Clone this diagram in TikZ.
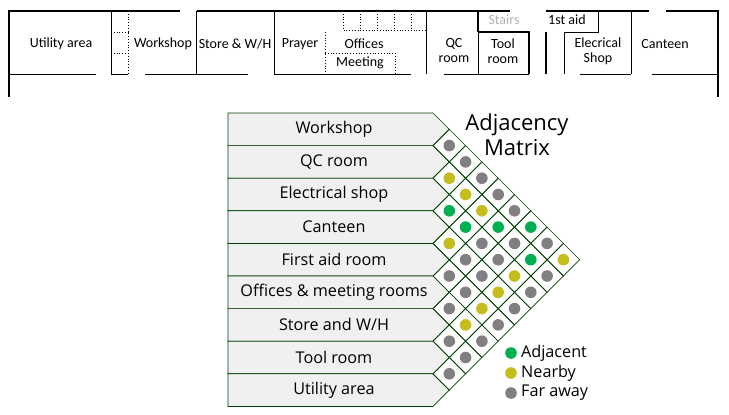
\documentclass[tikz,border=0pt]{standalone}
\usepackage{fontspec}
\setmainfont{Carlito}
\newfontfamily\osans{Open Sans}
\definecolor{adjg}{HTML}{00B050}
\definecolor{neary}{HTML}{C4BD1E}
\definecolor{fara}{HTML}{808080}
\begin{document}
\begin{tikzpicture}[x=1pt,y=-1pt,
  wall/.style={line width=2pt},
  thin/.style={line width=0.8pt},
  dot/.style={line width=0.8pt,dotted},
  room/.style={font=\fontsize{14}{15}\selectfont,align=center,inner sep=0pt},
  lab/.style={font=\osans\fontsize{16.2}{18}\selectfont,inner sep=0pt},
  cellc/.style={draw=green!25!black,line width=0.7pt},
  G/.style={fill=adjg},
  Y/.style={fill=neary},
  R/.style={fill=fara}]
\useasboundingbox (0,0) rectangle (729,415);
% floor plan
\draw[wall] (9,97) -- (9,11) -- (180,11);
\draw[wall] (197,11) -- (510,11);
\draw[wall] (546,11) -- (649,11);
\draw[wall] (666,11) -- (718,11) -- (718,97);
\draw[thin] (9,74) -- (96,74);
\draw[thin] (111,11) -- (111,74) -- (128,74);
\draw[dot] (128,11) -- (128,74) (111,32) -- (128,32) (111,53) -- (128,53);
\draw[thin] (145,74) -- (248,74);
\draw[thin] (196,11) -- (196,74);
\draw[thin] (274,11) -- (274,74) -- (411,74);
\draw[dot] (325,32) -- (325,74) (325,53) -- (395,53) -- (395,74);
\draw[dot] (343,11) -- (343,30) -- (426,30) (360,11) -- (360,30) (377,11) -- (377,30) (394,11) -- (394,30) (411,11) -- (411,30);
\draw[thin] (426,11) -- (426,74);
\draw[thin] (444,74) -- (529,74) (478,32) -- (478,74);
\draw[wall] (478,32) -- (529,32) -- (529,74);
\draw[wall] (478,11) -- (478,32);
\draw[wall] (546,32) -- (546,74);
\draw[thin] (598,11) -- (598,32) -- (564,32) -- (564,74);
\draw[thin] (580,74) -- (631,74) (631,11) -- (631,74);
\draw[thin] (652,74) -- (718,74);
\node[room] (u) at (61,44) {Utility area};
\node[room] (w) at (163,44) {Workshop};
\node[room] (s) at (235,44) {Store \& W/H};
\node[room] (p) at (300,44) {Prayer};
\node[room] (o) at (364,44) {Offices};
\node[room] (m) at (360,63) {Meeting};
\node[room] (q) at (454,51) {QC\\room};
\node[room] (t) at (503,51) {Tool\\room};
\node[room,text=gray!60] (st) at (504,20) {Stairs};
\node[room] (fa) at (567,20) {1st aid};
\node[room] (e) at (598,51) {Elecrical\\Shop};
\node[room] (c) at (665,44) {Canteen};
% matrix labels
\foreach \t [count=\i from 0] in {Workshop,QC room,Electrical shop,Canteen,First aid room,Offices \& meeting rooms,Store and W/H,Tool room,Utility area}{
  \pgfmathsetmacro{\yt}{113+32.6*\i}
  \draw[cellc,fill=gray!12] (228,\yt) -- (433,\yt) -- (449.3,\yt+16.3) -- (433,\yt+32.6) -- (228,\yt+32.6) -- cycle;
  \node[lab] (l\i) at (334,\yt+16.3) {\t};
}
\newcommand{\cellat}[3]{%
  \pgfmathsetmacro{\cx}{433+16.3*(#2-#1)}%
  \pgfmathsetmacro{\cy}{113+16.3*(#1+#2+1)}%
  \draw[cellc] (\cx-16.3,\cy) -- (\cx,\cy-16.3) -- (\cx+16.3,\cy) -- (\cx,\cy+16.3) -- cycle;
  \fill[#3] (\cx,\cy) circle (5.8);}
\foreach \a/\b/\c in {0/1/R,0/2/R,1/2/Y,0/3/R,1/3/Y,0/4/R,2/3/G,1/4/Y,0/5/R,2/4/G,1/5/G,0/6/G,3/4/Y,2/5/R,1/6/R,0/7/R,3/5/R,2/6/R,1/7/G,0/8/Y,4/5/R,3/6/R,2/7/Y,1/8/R,4/6/R,3/7/Y,2/8/R,5/6/R,4/7/Y,3/8/R,5/7/Y,4/8/R,6/7/R,5/8/R,6/8/R,7/8/R}{\cellat{\a}{\b}{\c}}
\node[font=\osans\fontsize{22}{25}\selectfont,align=center,inner sep=0pt] (title) at (517,135) {Adjacency\\Matrix};
\fill[G] (511,353) circle (5.8);
\fill[Y] (511,373) circle (5.8);
\fill[R] (511,393) circle (5.8);
\node[lab,anchor=west] (ga) at (521,353) {Adjacent};
\node[lab,anchor=west] (gn) at (521,373) {Nearby};
\node[lab,anchor=west] (gf) at (521,393) {Far away};
\end{tikzpicture}
\end{document}
